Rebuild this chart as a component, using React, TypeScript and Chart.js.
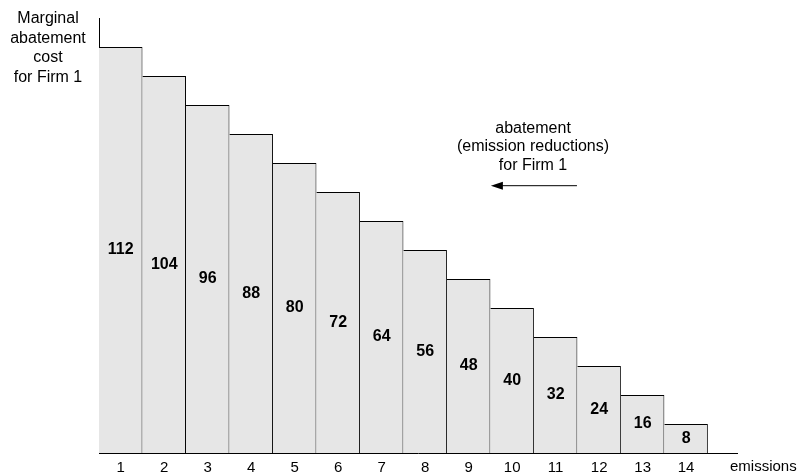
import React, { useEffect, useRef } from "react";
import { Chart, registerables } from "chart.js";

Chart.register(...registerables);

const categories = ["1", "2", "3", "4", "5", "6", "7", "8", "9", "10", "11", "12", "13", "14"];
const costValues = [112, 104, 96, 88, 80, 72, 64, 56, 48, 40, 32, 24, 16, 8];
const yTitleLines = ["Marginal", "abatement", "cost", "for Firm 1"];
const noteLines = ["abatement", "(emission reductions)", "for Firm 1"];
const xAxisLabel = "emissions";

const FONT = "'Liberation Sans', Arial, sans-serif";

export default function App() {
  const ref = useRef<HTMLCanvasElement | null>(null);

  useEffect(() => {
    const canvas = ref.current;
    if (!canvas) return;

    const annotations = {
      id: "annotations",
      afterDatasetsDraw(chart: any) {
        const ctx = chart.ctx;
        const area = chart.chartArea;
        const xs = chart.scales.x;
        const ys = chart.scales.y;
        ctx.save();
        // value labels inside bars
        const meta = chart.getDatasetMeta(0);
        ctx.font = `bold 16px ${FONT}`;
        ctx.fillStyle = "#000";
        ctx.textAlign = "center";
        ctx.textBaseline = "middle";
        meta.data.forEach((el: any, i: number) => {
          const p = el.getProps(["x", "y", "base"], true);
          ctx.fillText(String(costValues[i]), p.x, (p.y + p.base) / 2);
        });
        // y axis title
        ctx.font = `16px ${FONT}`;
        yTitleLines.forEach((t, i) => {
          ctx.fillText(t, area.left - 51, area.top + 0.5 + i * 19.6);
        });
        // x axis label
        ctx.font = `15px ${FONT}`;
        ctx.textAlign = "left";
        ctx.fillText(xAxisLabel, area.right - 7, area.bottom + 14);
        // note with arrow
        const cx = xs.getPixelForValue(10.48);
        const ty = ys.getPixelForValue(89.6);
        ctx.font = `16px ${FONT}`;
        ctx.textAlign = "center";
        noteLines.forEach((t, i) => ctx.fillText(t, cx, ty + i * 18.8));
        const ay = ty + 57;
        const x0 = xs.getPixelForValue(11.49);
        const x1 = xs.getPixelForValue(9.51);
        ctx.strokeStyle = "#000";
        ctx.lineWidth = 1;
        ctx.beginPath();
        ctx.moveTo(x0, ay + 0.5);
        ctx.lineTo(x1 + 10, ay + 0.5);
        ctx.stroke();
        ctx.beginPath();
        ctx.moveTo(x1, ay + 0.5);
        ctx.lineTo(x1 + 12, ay - 3.5);
        ctx.lineTo(x1 + 12, ay + 4.5);
        ctx.closePath();
        ctx.fillStyle = "#000";
        ctx.fill();
        ctx.restore();
      },
    };

    const chart = new Chart(canvas, {
      type: "bar",
      data: {
        datasets: [
          {
            data: costValues.map((v, i) => ({ x: i + 1, y: v })),
            backgroundColor: "#e6e6e6",
            borderColor: "#000",
            borderWidth: { top: 1, right: 1, left: 0, bottom: 0 },
            borderSkipped: false,
            barPercentage: 1,
            categoryPercentage: 1,
            inflateAmount: 0,
          } as any,
        ],
      },
      options: {
        animation: false,
        responsive: false,
        devicePixelRatio: 1,
        layout: { padding: { left: 99, right: 66, top: 18, bottom: -6 } },
        plugins: {
          legend: { display: false },
          tooltip: { enabled: false },
        },
        scales: {
          x: {
            type: "linear",
            offset: false,
            min: 0.5,
            max: 15.17,
            grid: { display: false, drawTicks: false, offset: false },
            border: { display: true, color: "#000", width: 1 },
            afterBuildTicks: (axis: any) => {
              axis.ticks = categories.map((_, i) => ({ value: i + 1 }));
            },
            ticks: {
              autoSkip: false,
              maxRotation: 0,
              padding: 7,
              color: "#000",
              font: { family: FONT, size: 15, lineHeight: 1 },
              callback: (v: any) => {
                const n = Number(v);
                return Number.isInteger(n) && n >= 1 && n <= categories.length ? categories[n - 1] : "";
              },
            },
          },
          y: {
            type: "linear",
            min: 0,
            max: 120,
            grid: { display: false, drawTicks: false },
            border: { display: true, color: "#000", width: 1 },
            ticks: { display: false },
          },
        },
      },
      plugins: [annotations],
    });

    return () => chart.destroy();
  }, []);

  return (
    <div style={{ position: "absolute", left: 0, top: 0, width: 803, height: 476, background: "#fff" }}>
      <canvas ref={ref} width={803} height={476} />
    </div>
  );
}
